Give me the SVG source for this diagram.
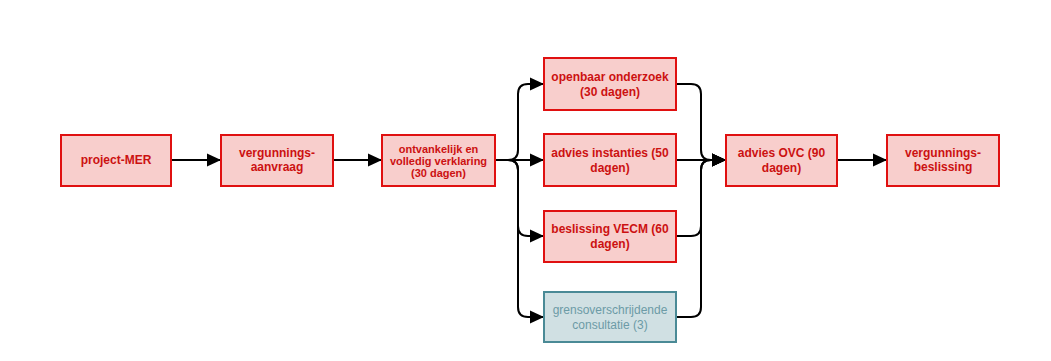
<svg xmlns="http://www.w3.org/2000/svg" width="1051" height="361" viewBox="0 0 1051 361">
<style>
.box{fill:#f8cecc;stroke:#e01010;stroke-width:2}
.boxb{fill:#d0e0e3;stroke:#4a8a96;stroke-width:2}
.t{font-family:"Liberation Sans",Arial,sans-serif;font-size:12px;font-weight:bold;fill:#cc1111;text-anchor:middle}
.ts{font-size:11px}
.tb{font-family:"Liberation Sans",Arial,sans-serif;font-size:12px;fill:#6c9ba6;text-anchor:middle}
.e{fill:none;stroke:#000;stroke-width:2;marker-end:url(#arr)}
</style>
<defs>
<marker id="arr" markerUnits="userSpaceOnUse" markerWidth="16" markerHeight="14" refX="14" refY="7" orient="auto">
<path d="M0,0.5 L14,7 L0,13.5 Z" fill="#000"/>
</marker>
</defs>
<rect width="1051" height="361" fill="#fff"/>
<g id="connectors">
<path class="e" d="M171,160 H221"/>
<path class="e" d="M333,160 H382"/>
<path class="e" d="M495,160 H508 Q518,160 518,150 V94 Q518,84 528,84 H544"/>
<path class="e" d="M495,160 H544"/>
<path class="e" d="M495,160 H508 Q518,160 518,170 V226 Q518,236 528,236 H544"/>
<path class="e" d="M495,160 H508 Q518,160 518,170 V307 Q518,317 528,317 H544"/>
<path class="e" d="M676,84 H691 Q701,84 701,94 V150 Q701,160 711,160 H726"/>
<path class="e" d="M676,160 H726"/>
<path class="e" d="M676,236 H691 Q701,236 701,226 V170 Q701,160 711,160 H726"/>
<path class="e" d="M676,317 H691 Q701,317 701,307 V170 Q701,160 711,160 H726"/>
<path class="e" d="M837,160 H887"/>
</g>
<g id="n1"><rect class="box" x="61" y="135" width="110" height="51"/><text class="t" x="116" y="164.3">project-MER</text></g>
<g id="n2"><rect class="box" x="221" y="135" width="112" height="51"/><text class="t" x="277" y="157.3">vergunnings-</text><text class="t" x="277" y="171.3">aanvraag</text></g>
<g id="n3"><rect class="box" x="382" y="135" width="113" height="51"/><text class="t ts" x="438.5" y="153">ontvankelijk en</text><text class="t ts" x="438.5" y="165">volledig verklaring</text><text class="t ts" x="438.5" y="177">(30 dagen)</text></g>
<g id="n4"><rect class="box" x="544" y="58" width="132" height="52"/><text class="t" x="610" y="80.5">openbaar onderzoek</text><text class="t" x="610" y="95.5">(30 dagen)</text></g>
<g id="n5"><rect class="box" x="544" y="134" width="132" height="52"/><text class="t" x="610" y="157">advies instanties (50</text><text class="t" x="610" y="171.5">dagen)</text></g>
<g id="n6"><rect class="box" x="544" y="211" width="132" height="51"/><text class="t" x="610" y="233">beslissing VECM (60</text><text class="t" x="610" y="247.5">dagen)</text></g>
<g id="n7"><rect class="boxb" x="544" y="292" width="132" height="50"/><text class="tb" x="610" y="314">grensoverschrijdende</text><text class="tb" x="610" y="328.5">consultatie (3)</text></g>
<g id="n8"><rect class="box" x="726" y="135" width="111" height="51"/><text class="t" x="781.5" y="157">advies OVC (90</text><text class="t" x="781.5" y="171.5">dagen)</text></g>
<g id="n9"><rect class="box" x="887" y="135" width="112" height="51"/><text class="t" x="943" y="157.3">vergunnings-</text><text class="t" x="943" y="171.3">beslissing</text></g>
</svg>
